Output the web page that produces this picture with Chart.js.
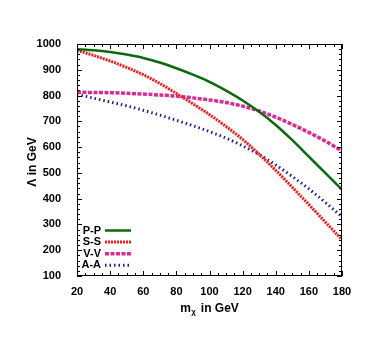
<!DOCTYPE html>
<html>
<head>
<meta charset="utf-8">
<script src="https://cdn.jsdelivr.net/npm/chart.js@4/dist/chart.umd.min.js"></script>
<style>
  html, body { margin: 0; padding: 0; background: #fff; }
  canvas { display: block; }
</style>
</head>
<body>
<canvas id="grafico" width="392" height="354"></canvas>
<script>
// valores (massa do DM em GeV, escala Lambda em GeV)
const massas = [20, 30, 40, 50, 60, 70, 80, 90, 100, 110, 120, 130, 140, 150, 160, 170, 180];
const valoresPP = [980, 976, 969, 959, 946, 928, 906, 881, 853, 819, 781, 737, 686, 627, 563, 499, 435];
const valoresSS = [975, 956, 934, 909, 881, 847, 808, 768, 726, 680, 630, 572, 510, 444, 377, 309, 241];
const valoresVV = [813, 812, 811, 809, 806, 802, 798, 791, 783, 773, 759, 740, 716, 688, 657, 623, 585];
const valoresAA = [805, 790, 775, 760, 743, 724, 704, 683, 660, 635, 605, 571, 531, 486, 438, 385, 330];
const rotulos = ['P-P', 'S-S', 'V-V', 'A-A'];
const ticksX = [20, 40, 60, 80, 100, 120, 140, 160, 180];
const ticksY = [100, 200, 300, 400, 500, 600, 700, 800, 900, 1000];

const fonte = "'Liberation Sans Narrow', 'Liberation Sans', Arial, sans-serif";

function pontos(valores) {
    return massas.map((m, i) => ({ x: m, y: valores[i] }));
}

// estilos de cada curva
const estilos = [
    { cor: '#0b6a0b', largura: 2.5, tracejado: [] },
    { cor: '#f01c1c', largura: 3, tracejado: [2, 1] },
    { cor: '#d82b98', largura: 3.5, tracejado: [4, 1.5] },
    { cor: '#1f1f8f', largura: 3, tracejado: [1.5, 3] },
];

const series = [valoresPP, valoresSS, valoresVV, valoresAA];

// moldura com marcas para dentro, títulos e legenda
const moldura = {
    id: 'moldura',
    afterDatasetsDraw(chart) {
        const ctx = chart.ctx;
        const a = chart.chartArea;
        const sx = chart.scales.x;
        const sy = chart.scales.y;
        ctx.save();
        ctx.strokeStyle = '#000';
        ctx.lineWidth = 1;
        ctx.setLineDash([]);
        ctx.strokeRect(a.left + 0.5, a.top + 0.5, a.right - a.left - 1, a.bottom - a.top - 1);
        ctx.beginPath();
        for (let v = 20; v <= 180; v += 5) {
            const px = Math.round(sx.getPixelForValue(v)) + 0.5;
            const t = v % 20 === 0 ? 5 : 3;
            ctx.moveTo(px, a.bottom); ctx.lineTo(px, a.bottom - t);
            ctx.moveTo(px, a.top); ctx.lineTo(px, a.top + t);
        }
        for (let v = 100; v <= 1000; v += 20) {
            const py = Math.round(sy.getPixelForValue(v)) + 0.5;
            const t = v % 100 === 0 ? 5 : 3;
            ctx.moveTo(a.left, py); ctx.lineTo(a.left + t, py);
            ctx.moveTo(a.right, py); ctx.lineTo(a.right - t, py);
        }
        ctx.stroke();

        // legenda
        ctx.font = 'bold 11px ' + fonte;
        ctx.textAlign = 'right';
        ctx.textBaseline = 'middle';
        ctx.fillStyle = '#000';
        chart.data.datasets.forEach((ds, i) => {
            const y = 230.5 + i * 11.6;
            ctx.fillText(ds.label, 101, y);
            ctx.beginPath();
            ctx.strokeStyle = ds.borderColor;
            ctx.lineWidth = ds.borderWidth;
            ctx.setLineDash(ds.borderDash || []);
            ctx.moveTo(105, y);
            ctx.lineTo(131, y);
            ctx.stroke();
        });
        ctx.setLineDash([]);

        // título do eixo x: m com subscrito chi
        ctx.textAlign = 'left';
        ctx.textBaseline = 'alphabetic';
        ctx.font = 'bold 12px ' + fonte;
        const wM = ctx.measureText('m').width;
        ctx.font = 'bold 8px ' + fonte;
        const wChi = ctx.measureText('χ').width + 1;
        ctx.font = 'bold 12px ' + fonte;
        const wResto = ctx.measureText(' in GeV').width;
        let x0 = 209 - (wM + wChi + wResto) / 2;
        ctx.fillText('m', x0, 312);
        ctx.font = 'bold 8px ' + fonte;
        ctx.fillText('χ', x0 + wM + 0.5, 314);
        ctx.font = 'bold 12px ' + fonte;
        ctx.fillText(' in GeV', x0 + wM + wChi + 1, 312);

        // título do eixo y
        ctx.translate(33, 162);
        ctx.rotate(-Math.PI / 2);
        ctx.textAlign = 'center';
        ctx.textBaseline = 'middle';
        ctx.fillText('Λ in GeV', 0, 0);
        ctx.restore();
    }
};

const ctx = document.getElementById('grafico').getContext('2d');
new Chart(ctx, {
    type: 'line',
    data: {
        datasets: series.map((valores, i) => ({
            label: rotulos[i],
            data: pontos(valores),
            borderColor: estilos[i].cor,
            borderWidth: estilos[i].largura,
            borderDash: estilos[i].tracejado,
            pointRadius: 0,
            fill: false,
            cubicInterpolationMode: 'monotone',
        })),
    },
    options: {
        responsive: false,
        animation: false,
        devicePixelRatio: 1,
        layout: { padding: { top: 44, right: 50, left: 0, bottom: 0 } },
        plugins: { legend: { display: false }, tooltip: { enabled: false } },
        scales: {
            x: {
                type: 'linear',
                min: 20,
                max: 180,
                afterBuildTicks: (s) => { s.ticks = ticksX.map(v => ({ value: v })); },
                afterFit: (s) => { s.height = 78; },
                grid: { display: false },
                border: { display: false },
                ticks: {
                    color: '#000',
                    padding: 1,
                    maxRotation: 0,
                    callback: (v) => String(v),
                    font: { family: fonte, size: 11, weight: 'bold' },
                },
            },
            y: {
                type: 'linear',
                min: 100,
                max: 1000,
                afterBuildTicks: (s) => { s.ticks = ticksY.map(v => ({ value: v })); },
                afterFit: (s) => { s.width = 77; },
                grid: { display: false },
                border: { display: false },
                ticks: {
                    color: '#000',
                    padding: 8,
                    callback: (v) => String(v),
                    font: { family: fonte, size: 11, weight: 'bold' },
                },
            },
        },
    },
    plugins: [moldura],
});
</script>
</body>
</html>
